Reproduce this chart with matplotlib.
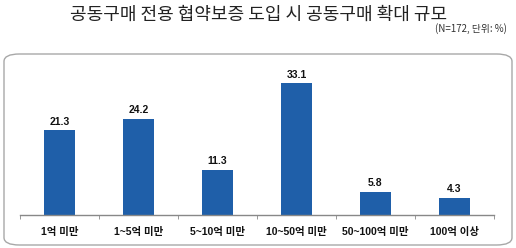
import matplotlib
matplotlib.use("Agg")
import matplotlib.pyplot as plt
from matplotlib.patches import FancyBboxPatch
import numpy as np

categories = ["1억 미만", "1~5억 미만", "5~10억 미만", "10~50억 미만", "50~100억 미만", "100억 이상"]
values = [21.3, 24.2, 11.3, 33.1, 5.8, 4.3]
title = "공동구매 전용 협약보증 도입 시 공동구매 확대 규모"
note = "(N=172, 단위: %)"

W, H = 516, 248
fig = plt.figure(figsize=(W / 100, H / 100), dpi=100)
fam = ["Liberation Sans", "Noto Sans CJK KR", "DejaVu Sans"]

# rounded frame
box = FancyBboxPatch((4 / W, 3 / H), 508 / W, 191 / H,
                     boxstyle="round,pad=0,rounding_size=0.03",
                     transform=fig.transFigure, fill=False,
                     edgecolor="#a8a8a8", linewidth=1.0)
fig.patches.append(box)

fig.text(259 / W, 1 - 15 / H, title, ha="center", va="center", fontsize=13,
         family=["Noto Sans CJK KR", "DejaVu Sans"], color="#222222")
fig.text(507 / W, 1 - 29 / H, note, ha="right", va="center", fontsize=7,
         family=["Noto Sans CJK KR", "DejaVu Sans"], color="#333333")

bottom = 215
top = 70
ax = fig.add_axes([20 / W, (H - bottom) / H, 474 / W, (bottom - top) / H])
x = np.arange(len(categories))
ax.bar(x, values, width=0.39, color="#1f5fa9")
ax.set_xlim(-0.5, len(categories) - 0.5)
ax.set_ylim(0, (bottom - top) / 3.98)
for xi, v in zip(x, values):
    ax.text(xi, v + 0.9, f"{v:.1f}", ha="center", va="bottom", fontsize=7.5,
            fontweight="bold", family=fam, color="#111111")
ax.set_xticks(x)
ax.set_xticklabels(categories, fontsize=7.5, fontweight="bold", family=fam, color="#111111")
ax.set_xticks(np.arange(-0.5, len(categories)), minor=True)
ax.tick_params(axis="x", which="major", length=0, pad=9)
ax.tick_params(axis="x", which="minor", length=3, color="#888888", direction="out")
ax.set_yticks([])
for s in ["top", "right", "left"]:
    ax.spines[s].set_visible(False)
ax.spines["bottom"].set_color("#888888")
ax.spines["bottom"].set_linewidth(1.0)
ax.patch.set_alpha(0)

fig.savefig("out.png", dpi=100)
